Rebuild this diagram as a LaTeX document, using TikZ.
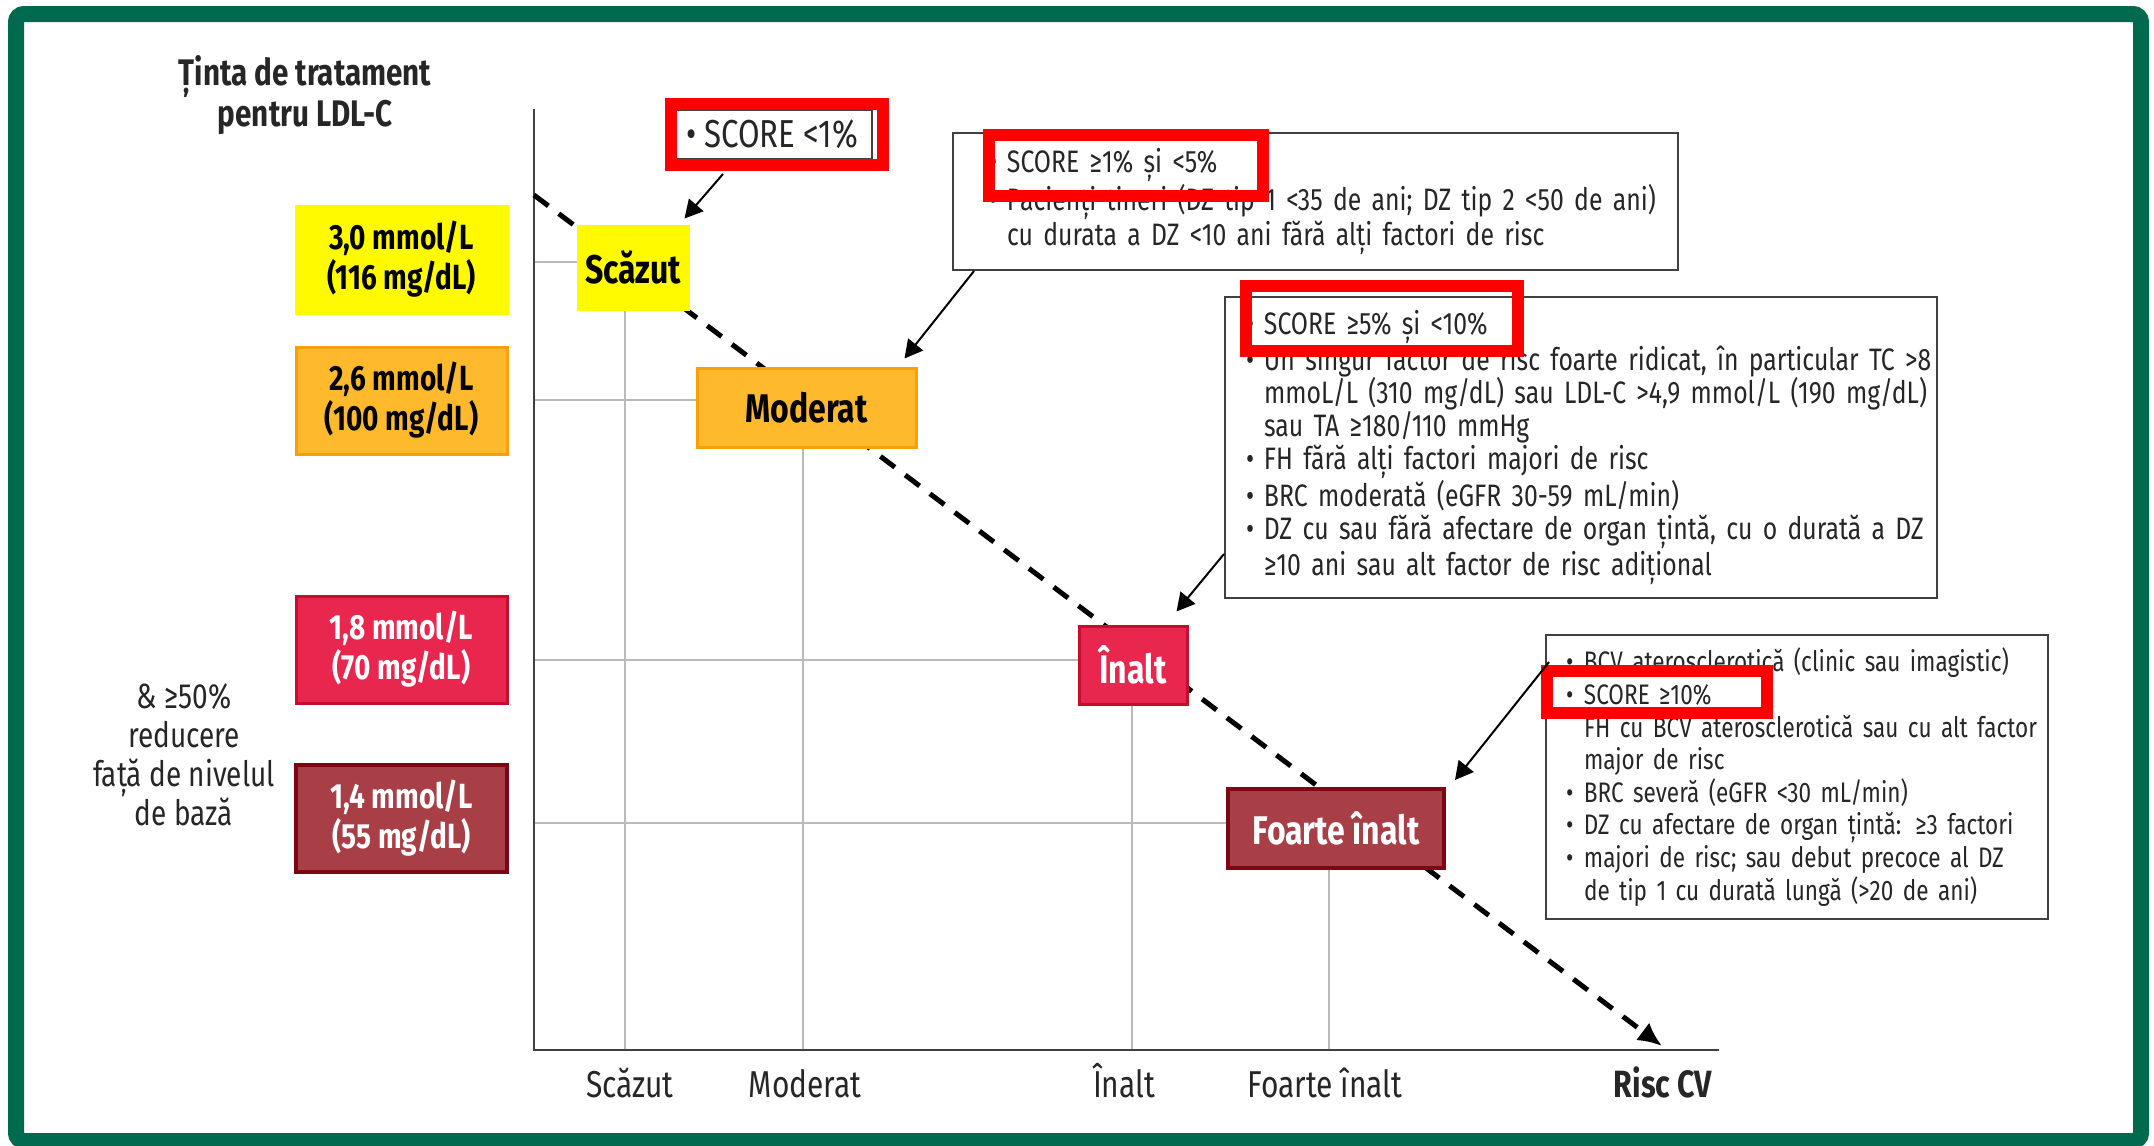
\documentclass[tikz,border=0pt]{standalone}
\usepackage{fontspec}
\setmainfont{Fira Sans}[FakeStretch=0.8]
\usetikzlibrary{arrows.meta}
\definecolor{framegreen}{RGB}{0,106,78}
\definecolor{lvlyellow}{RGB}{255,250,0}
\definecolor{lvlorange}{RGB}{255,185,45}
\definecolor{lvlorangeedge}{RGB}{248,160,10}
\definecolor{lvlred}{RGB}{232,38,78}
\definecolor{lvlrededge}{RGB}{196,14,44}
\definecolor{lvldark}{RGB}{168,62,70}
\definecolor{lvldarkedge}{RGB}{126,6,20}
\definecolor{inkgray}{RGB}{38,38,38}
\definecolor{gridgray}{RGB}{185,185,190}
\definecolor{markred}{RGB}{255,0,0}
\newcommand{\bitem}[1]{\mbox{\makebox[9pt][l]{\textbullet}#1}}
\newcommand{\bcont}[1]{\mbox{\hspace*{9pt}#1}}

\begin{document}
\begin{tikzpicture}[x=0.5pt,y=-0.5pt,
    ldlbox/.style={draw,line width=1.5pt,minimum width=105.5pt,minimum height=53.5pt,inner sep=0pt,align=center,
      font=\bfseries\fontsize{17.5}{20}\selectfont},
    riskbox/.style={draw,line width=1.5pt,inner sep=0pt,font=\bfseries\fontsize{20}{21}\selectfont},
    infobox/.style={draw=black!75,line width=1pt,fill=white,inner xsep=0pt,inner ysep=0pt,anchor=north west,
      align=left,text=inkgray,font=\fontsize{15.5}{16.5}\selectfont},
    redmark/.style={draw=markred,line width=6pt},
    pointer/.style={-{Triangle[length=9pt,width=9.5pt]},line width=1pt},
    gridline/.style={gridgray,line width=0.7pt},
    axisline/.style={black!75,line width=1.3pt},
    trendline/.style={line width=2.5pt,dash pattern=on 9pt off 6.5pt,-{Latex[length=12pt,width=11pt]}},
    axislabel/.style={anchor=base,text=inkgray,font=\fontsize{18.7}{20}\selectfont}]
    \fill[white] (0,0) rectangle (2154,1146);
    \useasboundingbox (0,0) rectangle (2154,1146);
    \draw[framegreen,line width=8pt,rounded corners=4pt] (16,14) rectangle (2141,1141);

    % grid and axes
    \draw[gridline] (534,262) -- (578,262) (534,400) -- (697,400) (534,660) -- (1079,660) (534,823) -- (1228,823)
      (625,309) -- (625,1050) (803,447) -- (803,1050) (1132,704) -- (1132,1050) (1329,868) -- (1329,1050);
    \coordinate (ytop) at (534,109);
    \coordinate (origin) at (534,1050);
    \coordinate (xend) at (1719,1050);
    \draw[axisline] (ytop) -- (origin) -- (xend);
    \coordinate (trendstart) at (534,195);
    \coordinate (trendend) at (1662,1046);
    \draw[trendline] (trendstart) -- (trendend);

    % LDL-C targets
    \node[align=center,text=inkgray,font=\bfseries\fontsize{18.5}{20.5}\selectfont] (title) at (305,95) {Ținta de tratament\\pentru LDL-C};
    \node[ldlbox,fill=lvlyellow,draw=lvlyellow] (lvl30) at (401.5,259.5) {3,0 mmol/L\\(116 mg/dL)};
    \node[ldlbox,fill=lvlorange,draw=lvlorangeedge] (lvl26) at (401.5,400.5) {2,6 mmol/L\\(100 mg/dL)};
    \node[ldlbox,fill=lvlred,draw=lvlrededge,text=white] (lvl18) at (401.5,649.5) {1,8 mmol/L\\(70 mg/dL)};
    \node[ldlbox,fill=lvldark,draw=lvldarkedge,line width=2pt,text=white] (lvl14) at (401.5,818) {1,4 mmol/L\\(55 mg/dL)};
    \node[align=center,text=inkgray,font=\fontsize{17.5}{19.5}\selectfont] (reduce) at (184,755) {\& ≥50\%\\reducere\\față de nivelul\\de bază};

    % risk categories
    \node[riskbox,fill=lvlyellow,draw=lvlyellow,minimum width=55pt,minimum height=41.5pt] (scazut) at (633,267.5) {Scăzut};
    \node[riskbox,fill=lvlorange,draw=lvlorangeedge,minimum width=109.5pt,minimum height=39.5pt] (moderat) at (806.5,407.5) {Moderat};
    \node[riskbox,fill=lvlred,draw=lvlrededge,text=white,minimum width=54pt,minimum height=39pt] (inalt) at (1133,665) {Înalt};
    \node[riskbox,fill=lvldark,draw=lvldarkedge,line width=2pt,text=white,minimum width=108pt,minimum height=39.5pt] (foarte) at (1336,828.5) {Foarte înalt};

    % criteria
    \node[infobox,anchor=center,minimum width=100pt,minimum height=24.5pt,font=\fontsize{19.5}{20}\selectfont] (info1) at (772,134.5) {\bitem{SCORE <1\%}};
    \node[infobox,text width=362.5pt,minimum height=68.5pt,font=\fontsize{15.5}{17.5}\selectfont] (info2) at (952,132)
      {\setlength{\leftskip}{18pt}\bitem{SCORE ≥1\% și <5\%}\\
       \bitem{Pacienți tineri (DZ tip 1 <35 de ani; DZ tip 2 <50 de ani)}\\
       \bcont{cu durata a DZ <10 ani fără alți factori de risc}\par};
    \node[infobox,text width=356pt,minimum height=150.5pt] (info3) at (1224,296)
      {\setlength{\leftskip}{10.5pt}\bitem{SCORE ≥5\% și <10\%}\\
       \bitem{Un singur factor de risc foarte ridicat, în particular TC >8}\\
       \bcont{mmoL/L (310 mg/dL) sau LDL-C >4,9 mmol/L (190 mg/dL)}\\
       \bcont{sau TA ≥180/110 mmHg}\\
       \bitem{FH fără alți factori majori de risc}\\
       \bitem{BRC moderată (eGFR 30-59 mL/min)}\\
       \bitem{DZ cu sau fără afectare de organ țintă, cu o durată a DZ}\\
       \bcont{≥10 ani sau alt factor de risc adițional}\par};
    \node[infobox,text width=251pt,minimum height=142pt,font=\fontsize{14.1}{16.3}\selectfont] (info4) at (1545,634)
      {\setlength{\leftskip}{10pt}\bitem{BCV aterosclerotică (clinic sau imagistic)}\\
       \bitem{SCORE ≥10\%}\\
       \bcont{FH cu BCV aterosclerotică sau cu alt factor}\\
       \bcont{major de risc}\\
       \bitem{BRC severă (eGFR <30 mL/min)}\\
       \bitem{DZ cu afectare de organ țintă: ≥3 factori}\\
       \bitem{majori de risc; sau debut precoce al DZ}\\
       \bcont{de tip 1 cu durată lungă (>20 de ani)}\par};

    % highlights
    \draw[redmark] (671,104) rectangle (883,165);
    \draw[redmark] (989,135) rectangle (1263,196);
    \draw[redmark] (1246,286) rectangle (1518,351);
    \draw[redmark] (1547,671) rectangle (1767,713);

    \draw[pointer] ([xshift=-24.5pt,yshift=-7pt]info1.south) -- ([xshift=-2.5pt,yshift=3pt]scazut.north east);
    \draw[pointer] ([xshift=11pt]info2.south west) -- ([xshift=-6.5pt,yshift=4pt]moderat.north east);
    \draw[pointer] ([yshift=22.5pt]info3.south west) -- ([xshift=-6pt,yshift=6.5pt]inalt.north east);
    \draw[pointer] ([xshift=2pt,yshift=-14pt]info4.north west) -- ([xshift=4.5pt,yshift=3.5pt]foarte.north east);

    % x axis labels
    \node[axislabel] (xlow) at (630,1097) {Scăzut};
    \node[axislabel] (xmod) at (805,1097) {Moderat};
    \node[axislabel] (xhigh) at (1124,1097) {Înalt};
    \node[axislabel] (xvhigh) at (1325,1097) {Foarte înalt};
    \node[axislabel,font=\bfseries\fontsize{19}{20}\selectfont] (xrisk) at (1663,1097) {Risc CV};
\end{tikzpicture}
\end{document}
